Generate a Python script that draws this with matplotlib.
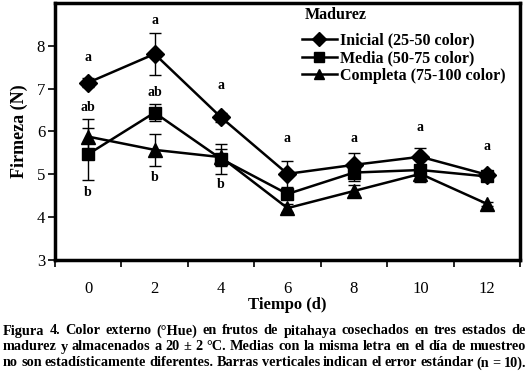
import matplotlib
matplotlib.use("Agg")
import matplotlib.pyplot as plt
import numpy as np

days = ["0", "2", "4", "6", "8", "10", "12"]
inicial = [7.14, 7.81, 6.33, 5.01, 5.22, 5.41, 4.99]
inicial_err = [0.1, 0.5, 0.1, 0.3, 0.28, 0.2, 0.05]
media = [5.47, 6.44, 5.36, 4.54, 5.04, 5.10, 4.95]
media_err = [0.6, 0.2, 0.35, 0.1, 0.2, 0.1, 0.05]
completa = [5.88, 5.57, 5.40, 4.21, 4.61, 5.01, 4.31]
completa_err = [0.4, 0.38, 0.2, 0.1, 0.15, 0.2, 0.05]

# significance letters: (day index, value position, text)
letters_x = [0, 0, 0, 1, 1, 1, 2, 2, 3, 4, 5, 6]
letters_y = [7.72, 6.57, 4.57, 8.6, 6.9, 4.92, 7.07, 4.75, 5.83, 5.83, 6.1, 5.66]
letters_t = ["a", "ab", "b", "a", "ab", "b", "a", "b", "a", "a", "a", "a"]

series_names = ["Inicial (25-50 color)", "Media (50-75 color)", "Completa (75-100 color)"]

serif = ["Liberation Serif", "DejaVu Serif"]
plt.rcParams["font.family"] = serif

fig = plt.figure(figsize=(5.28, 3.74), dpi=100)
ax = fig.add_axes([0.104, 0.305, 0.881, 0.687])

x = np.arange(len(days))
styles = [("D", 9.5), ("s", 9), ("^", 9.5)]
handles = []
for vals, errs, name, (m, ms) in zip([inicial, media, completa],
                                      [inicial_err, media_err, completa_err],
                                      series_names, styles):
    c = ax.errorbar(x, vals, yerr=errs, color="black", lw=1.8, marker=m, ms=ms,
                    mfc="black", mec="black", ecolor="black", elinewidth=1.0,
                    capsize=4, capthick=1.0, label=name)
    handles.append(c[0])

for xi, yi, t in zip(letters_x, letters_y, letters_t):
    ax.text(xi, yi, t, ha="center", va="center", fontsize=10, fontweight="bold")

ax.set_xlim(-0.5, len(days) - 0.5)
ax.set_ylim(3, 9)
ax.set_yticks([3, 4, 5, 6, 7, 8])
ax.set_yticklabels(["3", "4", "5", "6", "7", "8"], fontsize=12)
ax.set_xticks(np.arange(-0.5, len(days), 1.0))
ax.set_xticklabels([])
ax.set_xticks(x, minor=True)
ax.set_xticklabels(days, minor=True, fontsize=12)
ax.tick_params(axis="x", which="minor", length=0, pad=15)
ax.tick_params(axis="x", which="major", length=5, width=1.2, direction="out")
ax.tick_params(axis="y", length=5, width=1.2, direction="out", pad=2)
for s in ax.spines.values():
    s.set_linewidth(2.5)

ax.set_xlabel("Tiempo (d)", fontsize=12, fontweight="bold", labelpad=0)
ax.set_ylabel("Firmeza (N)", fontsize=13, fontweight="bold", labelpad=6)

ax.text(0.538, 0.953, "Madurez", transform=ax.transAxes, ha="left", va="center",
        fontsize=11.5, fontweight="bold")
leg = ax.legend(handles, series_names, loc="upper left", frameon=True,
                prop={"weight": "bold", "size": 11.5}, handlelength=2.2,
                borderaxespad=0.0, borderpad=0.3, labelspacing=0.12, handletextpad=0.2,
                markerscale=0.8, bbox_to_anchor=(0.52, 0.905))
leg.get_frame().set_edgecolor("white")
leg.get_frame().set_facecolor("white")
leg.get_frame().set_alpha(1)

caption = [
    "Figura 4. Color externo (°Hue) en frutos de pitahaya cosechados en tres estados de",
    "madurez y almacenados a 20 ± 2 °C. Medias con la misma letra en el día de muestreo",
    "no son estadísticamente diferentes. Barras verticales indican el error estándar (n = 10).",
]
x0, x1 = 3 / 528, 526 / 528
ys = [1 - 331 / 374, 1 - 347 / 374, 1 - 363 / 374]
fig.canvas.draw()
r = fig.canvas.get_renderer()
for line, yy in zip(caption, ys):
    words = line.split(" ")
    texts = [fig.text(0, yy, w, fontsize=10.3, fontweight="bold", va="center") for w in words]
    widths = [t.get_window_extent(r).width / fig.bbox.width for t in texts]
    gap = (x1 - x0 - sum(widths)) / (len(words) - 1)
    pos = x0
    for t, w in zip(texts, widths):
        t.set_x(pos)
        pos += w + gap

fig.savefig("out.png", dpi=100)
